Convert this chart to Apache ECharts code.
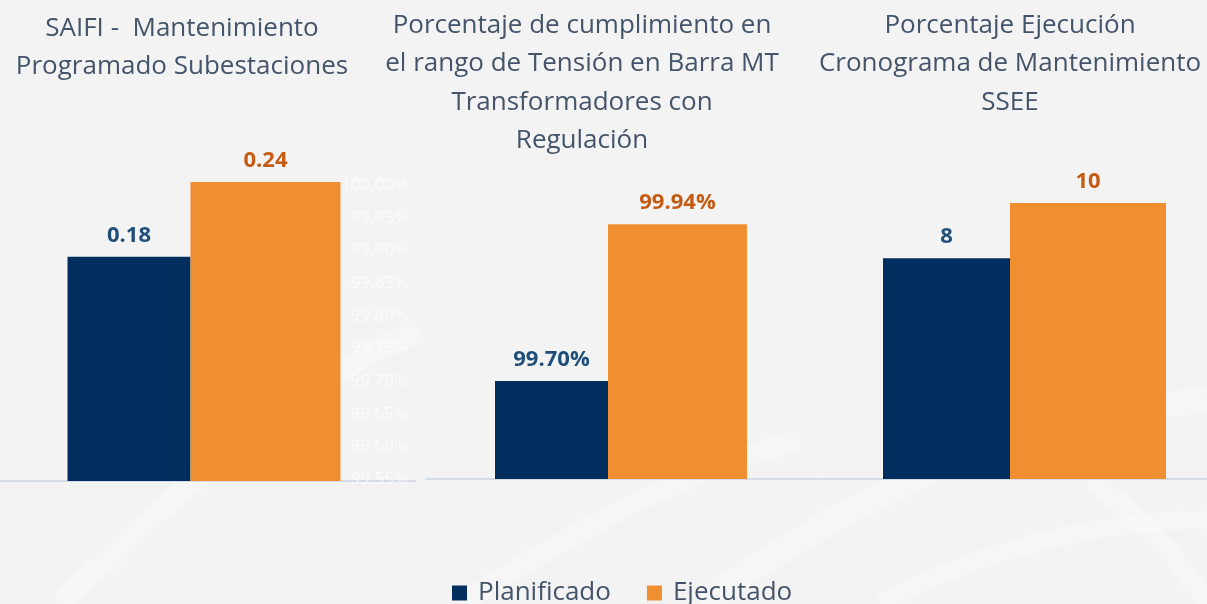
<!DOCTYPE html>
<html>
<head>
<meta charset="utf-8">
<style>html,body{margin:0;padding:0;background:#f3f3f3;}#c{width:1207px;height:604px;}</style>
<script src="https://cdn.jsdelivr.net/npm/echarts@6/dist/echarts.min.js"></script>
</head>
<body>
<div id="c"></div>
<script>
// ---- data ----
const seriesNames = ['Planificado', 'Ejecutado'];
const chartTitles = [
  'SAIFI -  Mantenimiento\nProgramado Subestaciones',
  'Porcentaje de cumplimiento en\nel rango de Tensión en Barra MT\nTransformadores con\nRegulación',
  'Porcentaje Ejecución\nCronograma de Mantenimiento\nSSEE'
];
const planificado = [0.18, 99.70, 8];
const ejecutado = [0.24, 99.94, 10];
const pctAxisTicks = ['99.55%', '99.60%', '99.65%', '99.70%', '99.75%', '99.80%', '99.85%', '99.90%', '99.95%', '100.00%'];

// ---- styling ----
const NAVY = '#002e5f', ORANGE = '#f08f32';
const NAVY_LBL = '#1f4e79', ORANGE_LBL = '#c55a11';
const TITLE_C = '#44546a';
const FONT = '"Open Sans", "Noto Sans", sans-serif';
const AXIS_C = '#d6dce5';

const grids = [
  {left: 0, width: 408, top: 182, bottom: 123},
  {left: 426, width: 390, top: 185, bottom: 125},
  {left: 842, right: 0, top: 203, bottom: 125}
];
const yCfg = [
  {min: 0, max: 0.24, show: false},
  {min: 99.55, max: 100, interval: 0.05, show: true},
  {min: 0, max: 10, show: false}
];
const fmt = [v => v.toFixed(2), v => v.toFixed(2) + '%', v => String(v)];
const navyW = [123, 113, 127], orangeW = [150, 139, 156];

const swoosh = 'rgba(255,255,255,0.28)';
const option = {
  backgroundColor: '#f3f3f3',
  animation: false,
  graphic: [
    // faint background swooshes
    {type: 'bezierCurve', silent: true, z: -10, shape: {x1: 60, y1: 604, x2: 420, y2: 330, cpx1: 190, cpy1: 480, cpx2: 300, cpy2: 380}, style: {stroke: swoosh, lineWidth: 22, fill: null}},
    {type: 'bezierCurve', silent: true, z: -10, shape: {x1: 460, y1: 604, x2: 800, y2: 440, cpx1: 560, cpy1: 540, cpx2: 680, cpy2: 470}, style: {stroke: swoosh, lineWidth: 20, fill: null}},
    {type: 'bezierCurve', silent: true, z: -10, shape: {x1: 700, y1: 604, x2: 1207, y2: 400, cpx1: 850, cpy1: 500, cpx2: 1000, cpy2: 420}, style: {stroke: swoosh, lineWidth: 26, fill: null}},
    {type: 'bezierCurve', silent: true, z: -10, shape: {x1: 880, y1: 604, x2: 1207, y2: 520, cpx1: 960, cpy1: 560, cpx2: 1080, cpy2: 520}, style: {stroke: swoosh, lineWidth: 18, fill: null}},
    {type: 'bezierCurve', silent: true, z: -10, shape: {x1: 1090, y1: 480, x2: 1207, y2: 604, cpx1: 1140, cpy1: 515, cpx2: 1185, cpy2: 565}, style: {stroke: swoosh, lineWidth: 20, fill: null}},
    // short extensions of the baselines
    {type: 'line', silent: true, shape: {x1: 408, y1: 481, x2: 416, y2: 481}, style: {stroke: AXIS_C, lineWidth: 2}},
    {type: 'line', silent: true, shape: {x1: 817, y1: 479, x2: 842, y2: 479}, style: {stroke: AXIS_C, lineWidth: 2}}
  ],
  title: [
    {text: chartTitles[0], left: 177, top: 4, textAlign: 'center'},
    {text: chartTitles[1], left: 577, top: 1, textAlign: 'center'},
    {text: chartTitles[2], left: 1005, top: 1, textAlign: 'center'}
  ].map(t => Object.assign(t, {textStyle: {fontFamily: FONT, fontSize: 26, fontWeight: 'normal', color: TITLE_C, lineHeight: 38.5}})),
  legend: {
    data: seriesNames, left: 447, top: 575, itemWidth: 15, itemHeight: 15, itemGap: 36,
    icon: 'rect',
    textStyle: {fontFamily: FONT, fontSize: 26, color: TITLE_C, padding: [0, 0, 0, 6]}
  },
  grid: grids,
  xAxis: grids.map((g, i) => ({
    type: 'category', gridIndex: i, data: [''],
    axisLine: {show: true, lineStyle: {color: AXIS_C, width: 2}},
    axisTick: {show: false}, axisLabel: {show: false}
  })),
  yAxis: yCfg.map((y, i) => ({
    type: 'value', gridIndex: i, min: y.min, max: y.max, interval: y.interval,
    show: y.show, splitLine: {show: false}, axisLine: {show: false}, axisTick: {show: false},
    axisLabel: i === 1 ? {
      show: true, margin: 18, fontFamily: FONT, fontSize: 17, color: 'rgba(255,255,255,0.7)',
      formatter: (v) => {
        const idx = Math.round((v - 99.55) / 0.05);
        return pctAxisTicks[idx] || '';
      }
    } : {show: false}
  })),
  series: []
};

for (let i = 0; i < 3; i++) {
  option.series.push({
    name: seriesNames[0], type: 'bar', xAxisIndex: i, yAxisIndex: i,
    data: [planificado[i]], barWidth: navyW[i], barGap: '0%',
    itemStyle: {color: NAVY},
    label: {show: true, position: 'top', distance: 10, color: NAVY_LBL, fontFamily: FONT,
      fontSize: 22, fontWeight: 'bold', formatter: p => fmt[i](p.value)}
  });
  option.series.push({
    name: seriesNames[1], type: 'bar', xAxisIndex: i, yAxisIndex: i,
    data: [ejecutado[i]], barWidth: orangeW[i], barGap: '0%',
    itemStyle: {color: ORANGE},
    label: {show: true, position: 'top', distance: 10, color: ORANGE_LBL, fontFamily: FONT,
      fontSize: 22, fontWeight: 'bold', formatter: p => fmt[i](p.value)}
  });
}

const chart = echarts.init(document.getElementById('c'), null, {renderer: 'canvas'});
chart.setOption(option);
</script>
</body>
</html>
